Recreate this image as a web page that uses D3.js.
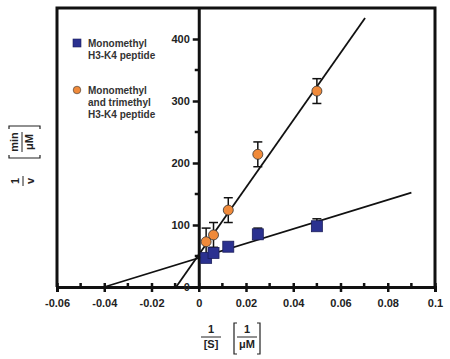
<!DOCTYPE html>
<html><head><meta charset="utf-8">
<script src="https://cdn.jsdelivr.net/npm/d3@7/dist/d3.min.js"></script>
<style>
html,body{margin:0;padding:0;background:#fff;}
svg{display:block;font-family:"Liberation Sans",Arial,sans-serif;}
</style></head>
<body><svg id="c" width="450" height="359"></svg>
<script>
// ---- data ----
const invS = [0.003125, 0.00625, 0.0125, 0.025, 0.05];
const monoValues = [47, 55, 65, 85, 98];
const monoErr = [5, 8, 4, 10, 12];
const bothValues = [73, 84, 124, 214, 316];
const bothErr = [22, 20, 20, 20, 20];
const seriesNames = ["Monomethyl\nH3-K4 peptide", "Monomethyl\nand trimethyl\nH3-K4 peptide"];
// fitted lines: [x start, x end], intercept, slope
const monoFit = {x: [-0.04, 0.09], b: 46.8, m: 1170};
const bothFit = {x: [-0.0096, 0.0704], b: 52, m: 5426};
const xTicks = [-0.06, -0.04, -0.02, 0, 0.02, 0.04, 0.06, 0.08, 0.1];
const xTickLabels = ["-0.06", "-0.04", "-0.02", "0", "0.02", "0.04", "0.06", "0.08", "0.1"];
const xMinor = [-0.05, -0.03, -0.01, 0.01, 0.03, 0.05, 0.07, 0.09];
const yTicks = [0, 100, 200, 300, 400];
const yMinor = [50, 150, 250, 350];

const svg = d3.select("#c");
const x = d3.scaleLinear().domain([-0.06, 0.1]).range([57, 435]);
const y = d3.scaleLinear().domain([0, 450]).range([287, 8]);
const blue = "#2b3190", orange = "#f08a3a";
const txt = "#222";

// frame (left, top, right)
svg.append("path")
  .attr("d", `M${x(-0.06)},${y(0)}V${y(450)}H${x(0.1)}V${y(0)}`)
  .attr("fill", "none").attr("stroke", "#111").attr("stroke-width", 3);

// x axis
const xAxis = d3.axisBottom(x).tickValues(xTicks).tickSize(5)
  .tickFormat((d, i) => xTickLabels[i]);
const gx = svg.append("g").attr("transform", `translate(0,${y(0)})`).call(xAxis);
gx.select(".domain").attr("stroke", "#111").attr("stroke-width", 3);
gx.selectAll(".tick line").attr("stroke", "#111").attr("stroke-width", 2.5).attr("y1", -4);
gx.selectAll(".tick text").attr("fill", txt).attr("font-size", 11).attr("font-weight", "bold").attr("dy", "1.05em");
svg.append("g").selectAll("line").data(xMinor).join("line")
  .attr("x1", d => x(d)).attr("x2", d => x(d)).attr("y1", y(0) - 4).attr("y2", y(0))
  .attr("stroke", "#111").attr("stroke-width", 2.5);

// y axis at x = 0
const yAxis = d3.axisLeft(y).tickValues(yTicks).tickSize(6).tickSizeOuter(0);
const gy = svg.append("g").attr("transform", `translate(${x(0)},0)`).call(yAxis);
gy.select(".domain").attr("stroke", "#111").attr("stroke-width", 3);
gy.selectAll(".tick line").attr("stroke", "#111").attr("stroke-width", 2.5);
gy.selectAll(".tick text").attr("fill", txt).attr("font-size", 11).attr("font-weight", "bold").attr("x", -9);
svg.append("g").selectAll("line").data(yMinor).join("line")
  .attr("x1", x(0) - 4).attr("x2", x(0)).attr("y1", d => y(d)).attr("y2", d => y(d))
  .attr("stroke", "#111").attr("stroke-width", 2.5);

// fitted lines
const line = d3.line().x(d => x(d[0])).y(d => y(d[1]));
[monoFit, bothFit].forEach(f => {
  svg.append("path").datum(f.x.map(v => [v, f.b + f.m * v]))
    .attr("d", line).attr("fill", "none").attr("stroke", "#111").attr("stroke-width", 1.8);
});

// error bars
function errBars(vals, errs, both) {
  const g = svg.append("g").attr("stroke", "#111").attr("stroke-width", 1.5).attr("fill", "none");
  invS.forEach((s, i) => {
    const cx = x(s), top = y(vals[i] + errs[i]), bot = both ? y(vals[i] - errs[i]) : y(vals[i]);
    g.append("line").attr("x1", cx).attr("x2", cx).attr("y1", top).attr("y2", bot);
    g.append("line").attr("x1", cx - 4.5).attr("x2", cx + 4.5).attr("y1", top).attr("y2", top);
    if (both) g.append("line").attr("x1", cx - 4.5).attr("x2", cx + 4.5).attr("y1", bot).attr("y2", bot);
  });
}
errBars(monoValues, monoErr, false);
errBars(bothValues, bothErr, true);

// markers
svg.append("g").selectAll("rect").data(invS).join("rect")
  .attr("x", d => x(d) - 5.5).attr("y", (d, i) => y(monoValues[i]) - 5.5)
  .attr("width", 11).attr("height", 11)
  .attr("fill", blue).attr("stroke", "#1a1d5a").attr("stroke-width", 0.8);
svg.append("g").selectAll("circle").data(invS).join("circle")
  .attr("cx", d => x(d)).attr("cy", (d, i) => y(bothValues[i])).attr("r", 5)
  .attr("fill", orange).attr("stroke", "#333").attr("stroke-width", 0.8);

// legend
const leg = svg.append("g").attr("font-size", 10).attr("font-weight", "bold").attr("fill", "#333");
leg.append("rect").attr("x", 73).attr("y", 39).attr("width", 8).attr("height", 8)
  .attr("fill", blue).attr("stroke", "#1a1d5a").attr("stroke-width", 0.6);
leg.append("circle").attr("cx", 77).attr("cy", 90).attr("r", 3.8)
  .attr("fill", orange).attr("stroke", "#333").attr("stroke-width", 0.6);
[[seriesNames[0], 47], [seriesNames[1], 94]].forEach(([name, y0]) => {
  name.split("\n").forEach((t, k) => {
    leg.append("text").attr("x", 88).attr("y", y0 + k * 12).text(t);
  });
});

// axis titles
function frac(g, cx, cy, num, den, w) {
  g.append("text").attr("x", cx).attr("y", cy - 4).attr("text-anchor", "middle").text(num);
  g.append("line").attr("x1", cx - w / 2).attr("x2", cx + w / 2).attr("y1", cy).attr("y2", cy)
    .attr("stroke", "#222").attr("stroke-width", 1);
  g.append("text").attr("x", cx).attr("y", cy + 11).attr("text-anchor", "middle").text(den);
}
function bracket(g, x0, x1, y0, y1) {
  g.append("path").attr("d", `M${x0 + 3},${y0}H${x0}V${y1}H${x0 + 3}M${x1 - 3},${y0}H${x1}V${y1}H${x1 - 3}`)
    .attr("fill", "none").attr("stroke", "#222").attr("stroke-width", 1.2);
}
const tx = svg.append("g").attr("font-size", 11).attr("font-weight", "bold").attr("fill", txt);
frac(tx, 211, 337, "1", "[S]", 20);
frac(tx, 247, 337, "1", "μM", 20);
bracket(tx, 234, 260, 323, 354);

const ty = svg.append("g").attr("font-size", 11).attr("font-weight", "bold").attr("fill", txt)
  .attr("transform", "rotate(-90)");
// rotated: local x = -pageY, local y = pageX
frac(ty, -181, 23, "1", "v", 10);
frac(ty, -142, 22, "min", "μM", 20);
bracket(ty, -158, -126, 9, 40);
</script></body></html>
